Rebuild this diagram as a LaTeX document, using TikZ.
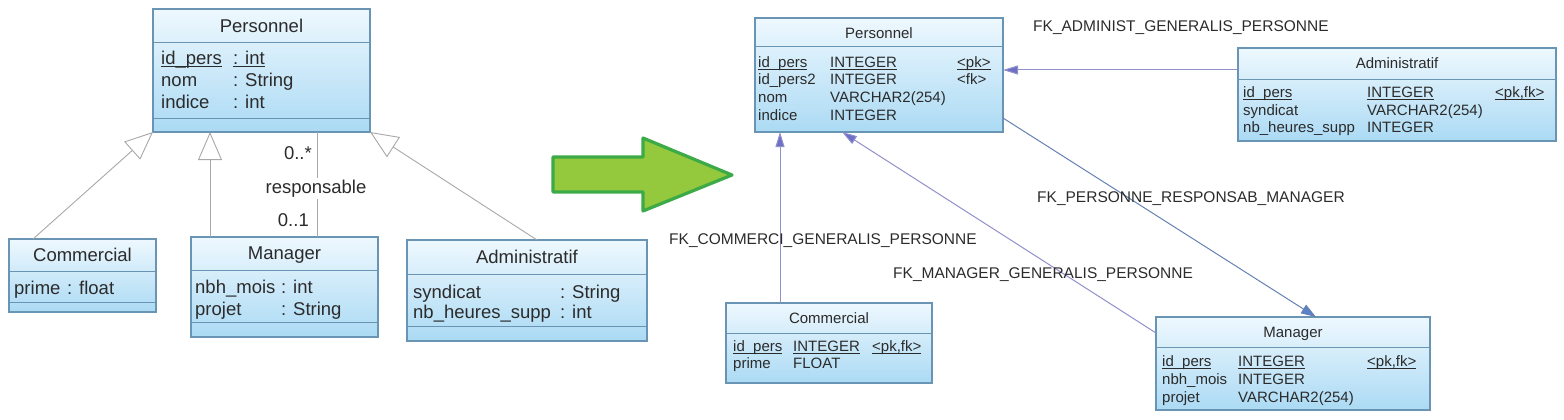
\documentclass[tikz,border=0pt]{standalone}
\usepackage{fontspec}
\setmainfont{Liberation Sans}
\usetikzlibrary{arrows.meta,calc}
\definecolor{bordc}{HTML}{6A94B4}
\definecolor{boxtop}{HTML}{EEF8FE}
\definecolor{boxbot}{HTML}{ABDAF4}
\definecolor{txt}{HTML}{2B2B2B}
\definecolor{genc}{HTML}{A8A8A8}
\definecolor{fkc}{HTML}{9090CC}
\definecolor{fkh}{HTML}{6F6FC4}
\definecolor{resc}{HTML}{5A82C8}
\definecolor{arrfill}{HTML}{94C83D}
\definecolor{arrdraw}{HTML}{3CAA46}
\newcommand\myul[1]{\setbox0\hbox{#1}\rlap{\rule[-1.8pt]{\wd0}{0.7pt}}\box0}
\tikzset{
  umlbox/.style={draw=bordc, line width=1.2pt, top color=boxtop, bottom color=boxbot,
    inner sep=0pt, outer sep=0pt, anchor=north west},
  sepline/.style={draw=bordc, line width=1pt},
  ltxt/.style={font=\fontsize{18.5}{22}\selectfont, text=txt, inner sep=0pt},
  rtxt/.style={font=\fontsize{15}{18}\selectfont, text=txt, inner sep=0pt},
  fktxt/.style={font=\fontsize{15.5}{18}\selectfont, text=txt, inner sep=0pt, anchor=base west},
  gen/.style={draw=genc, line width=0.9pt, -{Triangle[open, fill=white, length=28pt, width=24pt]}},
  assoc/.style={draw=genc, line width=0.9pt},
  fk/.style={draw=fkc, line width=1pt, -{Triangle[length=15pt, width=9pt, fill=fkh]}},
  resp/.style={draw=resc!70!gray, line width=1pt, -{Triangle[length=15pt, width=10pt, fill=resc]}},
}
\begin{document}
\begin{tikzpicture}[x=1pt,y=-1pt]
\useasboundingbox (0,0) rectangle (1564,420);

% ---------------- left UML ----------------
\node[umlbox, minimum width=217pt, minimum height=123pt] (lp) at (153,9) {};
\draw[sepline] (153,43) -- (370,43);
\draw[sepline] (153,118) -- (370,118);
\node[ltxt, anchor=base] (lpt) at (261.5,32.6) {Personnel};
\node[ltxt, anchor=base west] (lp1a) at (161,64.6) {\myul{id\_pers}};
\node[ltxt, anchor=base west] (lp1b) at (233,64.6) {\myul{: int}};
\node[ltxt, anchor=base west] (lp2a) at (161,86.6) {nom};
\node[ltxt, anchor=base west] (lp2b) at (233,86.6) {: String};
\node[ltxt, anchor=base west] (lp3a) at (161,108.6) {indice};
\node[ltxt, anchor=base west] (lp3b) at (233,108.6) {: int};

\node[umlbox, minimum width=147pt, minimum height=73pt] (lcom) at (9,239) {};
\draw[sepline] (9,271) -- (156,271);
\draw[sepline] (9,302) -- (156,302);
\node[ltxt, anchor=base] (lcomt) at (82.5,261.6) {Commercial};
\node[ltxt, anchor=base west] (lc1a) at (14,294.6) {prime};
\node[ltxt, anchor=base west] (lc1b) at (67,294.6) {: float};

\node[umlbox, minimum width=187pt, minimum height=100pt] (lmgr) at (191,237) {};
\draw[sepline] (191,270) -- (378,270);
\draw[sepline] (191,322) -- (378,322);
\node[ltxt, anchor=base] (lmgrt) at (284.5,259.6) {Manager};
\node[ltxt, anchor=base west] (lm1a) at (195,293.6) {nbh\_mois};
\node[ltxt, anchor=base west] (lm1b) at (281,293.6) {: int};
\node[ltxt, anchor=base west] (lm2a) at (195,315.6) {projet};
\node[ltxt, anchor=base west] (lm2b) at (281,315.6) {: String};

\node[umlbox, minimum width=240pt, minimum height=101pt] (ladm) at (407,240) {};
\draw[sepline] (407,274) -- (647,274);
\draw[sepline] (407,326) -- (647,326);
\node[ltxt, anchor=base] (ladmt) at (527,263.6) {Administratif};
\node[ltxt, anchor=base west] (la1a) at (413,298.6) {syndicat};
\node[ltxt, anchor=base west] (la1b) at (560,298.6) {: String};
\node[ltxt, anchor=base west] (la2a) at (413,318.6) {nb\_heures\_supp};
\node[ltxt, anchor=base west] (la2b) at (560,318.6) {: int};

% generalisations
\draw[gen] ($(lcom.north west)+(24,0)$) -- (lp.south west);
\draw[gen] ($(lmgr.north west)+(19,0)$) -- ($(lp.south west)+(57,0)$);
\draw[gen] ($(ladm.north west)+(130,0)$) -- (lp.south east);
% association
\draw[assoc] ($(lp.south west)+(164,0)$) -- ($(lmgr.north west)+(126,0)$);
\node[ltxt, anchor=base east] (m1) at (312,159.6) {0..*};
\node[ltxt, anchor=base, fill=white, inner sep=2pt] (rl) at (316,193.6) {responsable};
\node[ltxt, anchor=base east] (m2) at (309,226) {0..1};

% ---------------- green arrow ----------------
\draw[draw=arrdraw, line width=3.2pt, fill=arrfill, line join=round]
  (553,157) -- (643,157) -- (643,138) -- (732,175) -- (643,211) -- (643,192) -- (553,192) -- cycle;

% ---------------- right physical model ----------------
\node[umlbox, minimum width=248pt, minimum height=114pt] (rp) at (755,18) {};
\draw[sepline] (755,47) -- (1003,47);
\node[rtxt, anchor=base] (rpt) at (879,38.4) {Personnel};
\node[rtxt, anchor=base west] (rp1a) at (758,67.4) {\myul{id\_pers}};
\node[rtxt, anchor=base west] (rp1b) at (830,67.4) {\myul{INTEGER}};
\node[rtxt, anchor=base west] (rp1c) at (957,67.4) {\myul{<pk>}};
\node[rtxt, anchor=base west] (rp2a) at (758,84.4) {id\_pers2};
\node[rtxt, anchor=base west] (rp2b) at (830,84.4) {INTEGER};
\node[rtxt, anchor=base west] (rp2c) at (957,84.4) {<fk>};
\node[rtxt, anchor=base west] (rp3a) at (758,102.4) {nom};
\node[rtxt, anchor=base west] (rp3b) at (830,102.4) {VARCHAR2(254)};
\node[rtxt, anchor=base west] (rp4a) at (758,120.4) {indice};
\node[rtxt, anchor=base west] (rp4b) at (830,120.4) {INTEGER};

\node[umlbox, minimum width=318pt, minimum height=93pt] (radm) at (1238,48) {};
\draw[sepline] (1238,80) -- (1556,80);
\node[rtxt, anchor=base] (radmt) at (1397,69) {Administratif};
\node[rtxt, anchor=base west] (ra1a) at (1243,97.4) {\myul{id\_pers}};
\node[rtxt, anchor=base west] (ra1b) at (1367,97.4) {\myul{INTEGER}};
\node[rtxt, anchor=base west] (ra1c) at (1495,97.4) {\myul{<pk,fk>}};
\node[rtxt, anchor=base west] (ra2a) at (1243,115.4) {syndicat};
\node[rtxt, anchor=base west] (ra2b) at (1367,115.4) {VARCHAR2(254)};
\node[rtxt, anchor=base west] (ra3a) at (1243,132.4) {nb\_heures\_supp};
\node[rtxt, anchor=base west] (ra3b) at (1367,132.4) {INTEGER};

\node[umlbox, minimum width=206pt, minimum height=80pt] (rcom) at (726,303) {};
\draw[sepline] (726,333) -- (932,333);
\node[rtxt, anchor=base] (rcomt) at (829,323.4) {Commercial};
\node[rtxt, anchor=base west] (rc1a) at (733,351.4) {\myul{id\_pers}};
\node[rtxt, anchor=base west] (rc1b) at (793,351.4) {\myul{INTEGER}};
\node[rtxt, anchor=base west] (rc1c) at (872,351.4) {\myul{<pk,fk>}};
\node[rtxt, anchor=base west] (rc2a) at (733,368.4) {prime};
\node[rtxt, anchor=base west] (rc2b) at (793,368.4) {FLOAT};

\node[umlbox, minimum width=274pt, minimum height=93pt] (rmgr) at (1156,317) {};
\draw[sepline] (1156,347) -- (1430,347);
\node[rtxt, anchor=base] (rmgrt) at (1293,337.4) {Manager};
\node[rtxt, anchor=base west] (rm1a) at (1162,366.4) {\myul{id\_pers}};
\node[rtxt, anchor=base west] (rm1b) at (1238,366.4) {\myul{INTEGER}};
\node[rtxt, anchor=base west] (rm1c) at (1367,366.4) {\myul{<pk,fk>}};
\node[rtxt, anchor=base west] (rm2a) at (1162,384.4) {nbh\_mois};
\node[rtxt, anchor=base west] (rm2b) at (1238,384.4) {INTEGER};
\node[rtxt, anchor=base west] (rm3a) at (1162,402.4) {projet};
\node[rtxt, anchor=base west] (rm3b) at (1238,402.4) {VARCHAR2(254)};

% references
\draw[fk] ($(radm.north west)+(0,22)$) -- ($(rp.north east)+(0,52)$);
\draw[fk] ($(rcom.north west)+(54,0)$) -- ($(rp.south west)+(25,0)$);
\draw[fk] ($(rmgr.north west)+(0,16)$) -- ($(rp.south west)+(87,0)$);
\draw[resp] ($(rp.south east)+(0,-14)$) -- ($(rmgr.north west)+(160,0)$);

\node[fktxt] (fk1) at (1033,31.5) {FK\_ADMINIST\_GENERALIS\_PERSONNE};
\node[fktxt] (fk2) at (669,244.5) {FK\_COMMERCI\_GENERALIS\_PERSONNE};
\node[fktxt] (fk3) at (893,278.5) {FK\_MANAGER\_GENERALIS\_PERSONNE};
\node[fktxt] (fk4) at (1037,202.5) {FK\_PERSONNE\_RESPONSAB\_MANAGER};
\end{tikzpicture}
\end{document}
